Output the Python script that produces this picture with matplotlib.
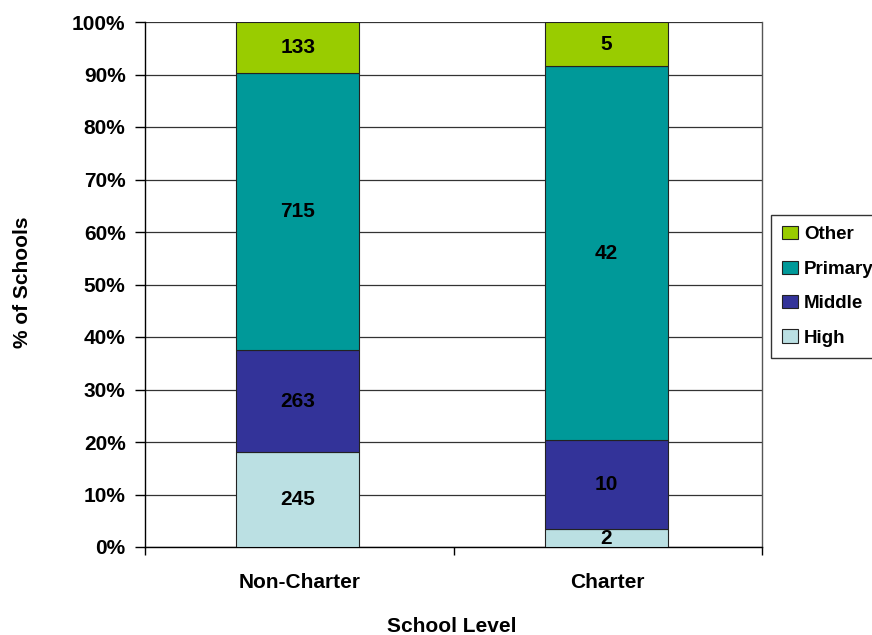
import matplotlib
matplotlib.use("Agg")
import matplotlib.pyplot as plt
import numpy as np
from matplotlib import font_manager

names = {f.name for f in font_manager.fontManager.ttflist}
fam = ['Liberation Sans Narrow', 'Liberation Sans', 'DejaVu Sans']
fam = [f for f in fam if f in names] or ['DejaVu Sans']
plt.rcParams['font.family'] = fam
plt.rcParams['font.weight'] = 'bold'

categories = ["Non-Charter", "Charter"]
series = ["High", "Middle", "Primary", "Other"]
high = [245, 2]
middle = [263, 10]
primary = [715, 42]
other = [133, 5]
colors = ["#BBE0E3", "#333399", "#009999", "#99CC00"]

data = np.array([high, middle, primary, other], dtype=float)
totals = data.sum(axis=0)
pct = data / totals * 100

FS = 15

fig = plt.figure(figsize=(8.72, 6.35), dpi=100)
ax = fig.add_axes([145/872, 1-547/635, 617/872, 525/635])

x = np.arange(len(categories))
bottom = np.zeros(len(categories))
handles = []
for i, name in enumerate(series):
    bars = ax.bar(x - 0.005, pct[i], 0.4, bottom=bottom, color=colors[i],
                  edgecolor="#222222", linewidth=0.8, label=name, zorder=3)
    handles.append(bars)
    for j in range(len(categories)):
        yc = bottom[j] + pct[i][j] / 2
        ax.text(x[j] - 0.005, yc, f"{int(data[i][j])}", ha="center", va="center",
                fontsize=FS, fontweight="bold", color="black", zorder=4)
    bottom += pct[i]

ax.set_xlim(-0.5, 1.5)
ax.set_ylim(0, 100)
ax.set_yticks(np.arange(0, 101, 10))
ax.set_yticklabels([f"{v}%" for v in range(0, 101, 10)], fontsize=FS, fontweight="bold")
ax.yaxis.grid(True, color="#333333", linewidth=0.9, zorder=0)
ax.set_axisbelow(True)
ax.set_xticks([-0.5, 0.5, 1.5])
ax.set_xticklabels([])
ax.set_xticks(x, minor=True)
ax.set_xticklabels(categories, minor=True, fontsize=FS, fontweight="bold")
ax.tick_params(axis="x", which="minor", length=0, pad=19)
ax.tick_params(axis="x", which="major", length=6, width=1, direction="out")
ax.tick_params(axis="y", length=7, width=1, direction="out", pad=7)
for s in ax.spines.values():
    s.set_color("black")
    s.set_linewidth(1)
ax.spines["top"].set_visible(False)
ax.spines["right"].set_color("#555555")

fig.text(452/872, 1-626/635, "School Level", ha="center", va="center",
         fontsize=FS, fontweight="bold")
fig.text(22/872, 1-282/635, "% of Schools", ha="center", va="center",
         rotation=90, fontsize=FS, fontweight="bold")

leg = fig.legend(handles[::-1], series[::-1], loc="upper left",
                 bbox_to_anchor=(771/872, 1-215/635), frameon=True,
                 fancybox=False, edgecolor="black", fontsize=13.5,
                 handlelength=0.85, handleheight=0.7, handletextpad=0.3,
                 labelspacing=0.92, borderpad=0.6, borderaxespad=0)
leg.get_frame().set_linewidth(1)
for t in leg.get_texts():
    t.set_fontweight("bold")

fig.savefig("out.png", dpi=100)
